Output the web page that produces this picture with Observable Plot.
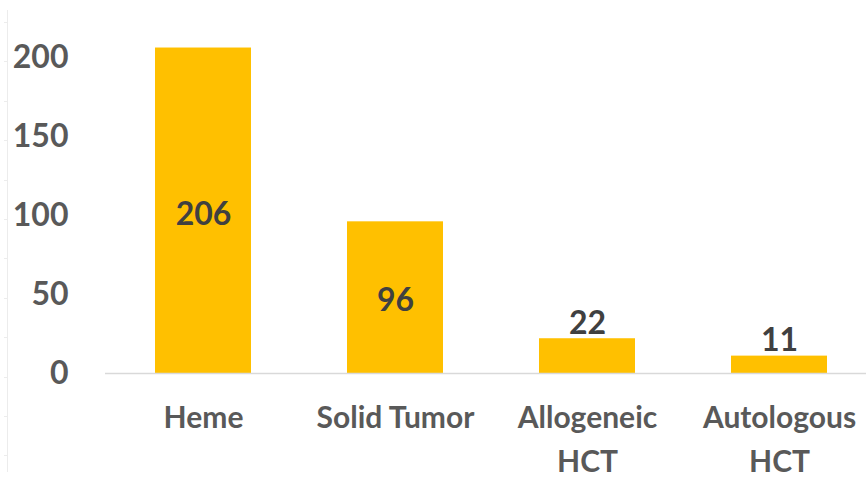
<!DOCTYPE html>
<html>
<head>
<meta charset="utf-8">
<script src="https://cdn.jsdelivr.net/npm/d3@7"></script>
<script src="https://cdn.jsdelivr.net/npm/@observablehq/plot@0.6"></script>
<style>
  body { margin: 0; background: #fff; font-family: Lato, "Open Sans", sans-serif; }
  #wrap { position: relative; width: 866px; height: 477px; }
  #edge { position: absolute; left: 7px; top: 10px; height: 462px; width: 0; border-left: 1px solid #ececec; }
  #edgeTicks { position: absolute; left: 4px; top: 22px; height: 440px; width: 3px;
    background: repeating-linear-gradient(to bottom, #ececec 0px, #ececec 1px, transparent 1px, transparent 39.4px); }
</style>
</head>
<body>
<div id="wrap"><div id="edge"></div><div id="edgeTicks"></div></div>
<script>
const categories = ["Heme", "Solid Tumor", "Allogeneic\nHCT", "Autologous\nHCT"];
const counts = [206, 96, 22, 11];
const yTicks = [0, 50, 100, 150, 200];

const data = categories.map((c, i) => ({category: c, count: counts[i]}));
const big = data.filter(d => d.count > 50);
const small = data.filter(d => d.count <= 50);

const chart = Plot.plot({
  width: 866,
  height: 477,
  marginLeft: 105,
  marginRight: 0,
  marginTop: 57,
  marginBottom: 104,
  style: {fontFamily: "Lato, 'Open Sans', sans-serif", background: "transparent", overflow: "visible"},
  x: {domain: categories, range: [105, 876], paddingInner: 0.5, paddingOuter: 0.25, label: null},
  y: {domain: [0, 200], label: null},
  marks: [
    Plot.barY(data, {x: "category", y: "count", fill: "#FFC000"}),
    Plot.ruleY([0], {stroke: "#d9d9d9", strokeWidth: 1.3}),
    Plot.axisY({ticks: yTicks, tickSize: 0, tickPadding: 37, fontSize: 32, fontWeight: "bold", color: "#595959", label: null}),
    Plot.axisX({tickSize: 0, tickPadding: 24, fontSize: 30, fontWeight: "bold", color: "#595959", lineHeight: 1.45, label: null}),
    Plot.text(big, {x: "category", y: d => d.count / 2, text: d => String(d.count), dy: 3.5, fontSize: 32, fontWeight: "bold", fill: "#404040"}),
    Plot.text(small, {x: "category", y: "count", text: d => String(d.count), dy: -15, fontSize: 32, fontWeight: "bold", fill: "#404040"})
  ]
});
document.getElementById("wrap").appendChild(chart);
chart.style.position = "absolute";
chart.style.left = "0";
chart.style.top = "0";
</script>
</body>
</html>
